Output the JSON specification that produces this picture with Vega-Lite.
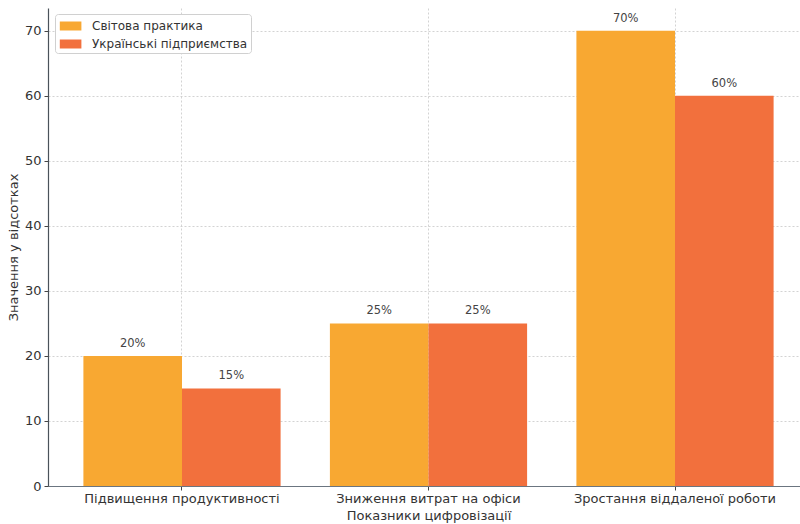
{
  "$schema": "https://vega.github.io/schema/vega-lite/v6.json",
  "width": 752,
  "height": 478,
  "autosize": {"type": "none"},
  "padding": {"left": 48, "top": 8, "right": 0, "bottom": 38},
  "background": "white",
  "data": {
    "values": [
      {"category": "Підвищення продуктивності", "series": "Світова практика", "value": 20},
      {"category": "Підвищення продуктивності", "series": "Українські підприємства", "value": 15},
      {"category": "Зниження витрат на офіси", "series": "Світова практика", "value": 25},
      {"category": "Зниження витрат на офіси", "series": "Українські підприємства", "value": 25},
      {"category": "Зростання віддаленої роботи", "series": "Світова практика", "value": 70},
      {"category": "Зростання віддаленої роботи", "series": "Українські підприємства", "value": 60}
    ]
  },
  "transform": [{"calculate": "datum.value + '%'", "as": "label"}],
  "encoding": {
    "x": {
      "field": "category",
      "type": "nominal",
      "sort": ["Підвищення продуктивності", "Зниження витрат на офіси", "Зростання віддаленої роботи"],
      "scale": {"range": [0, 761], "paddingInner": 0.2, "paddingOuter": 0.1436},
      "title": "Показники цифровізації",
      "axis": {
        "labelAngle": 0,
        "labelLimit": 0,
        "bandPosition": 0.5,
        "grid": true,
        "gridDash": [2, 2],
        "gridColor": "#c8c8c8",
        "gridWidth": 0.8,
        "tickSize": 4,
        "tickColor": "#444",
        "labelPadding": 2,
        "titlePadding": 4,
        "domainColor": "#6b7580",
        "domainWidth": 1.2
      }
    },
    "xOffset": {"field": "series", "type": "nominal", "sort": ["Світова практика", "Українські підприємства"], "scale": {"paddingInner": 0, "paddingOuter": 0}},
    "y": {
      "field": "value",
      "type": "quantitative",
      "scale": {"domain": [0, 73.5], "nice": false, "zero": true},
      "title": "Значення у відсотках",
      "axis": {
        "values": [0, 10, 20, 30, 40, 50, 60, 70],
        "grid": true,
        "gridDash": [2, 2],
        "gridColor": "#c8c8c8",
        "gridWidth": 0.8,
        "tickSize": 4,
        "tickColor": "#444",
        "labelPadding": 3,
        "titlePadding": 4,
        "domainColor": "#4a525a",
        "domainWidth": 1.2
      }
    }
  },
  "layer": [
    {
      "mark": {"type": "bar"},
      "encoding": {
        "color": {
          "field": "series",
          "type": "nominal",
          "scale": {"domain": ["Світова практика", "Українські підприємства"], "range": ["#F8A832", "#F2703D"]},
          "legend": {
            "title": null,
            "orient": "none",
            "legendX": 7,
            "legendY": 6,
            "padding": 3,
            "cornerRadius": 3,
            "strokeColor": "#d0d0d0",
            "fillColor": "#ffffff",
            "symbolType": "M-0.8,-0.5H1.6V0.5H-0.8Z",
            "symbolSize": 324,
            "symbolStrokeWidth": 0,
            "symbolOpacity": 1,
            "labelFontSize": 12,
            "labelColor": "#333",
            "labelOffset": 16,
            "rowPadding": 3
          }
        }
      }
    },
    {
      "mark": {"type": "text", "dy": -12, "fontSize": 11.5, "color": "#444", "font": "DejaVu Sans"},
      "encoding": {"text": {"field": "label"}}
    }
  ],
  "config": {
    "font": "DejaVu Sans",
    "view": {"stroke": null},
    "axis": {
      "labelFont": "DejaVu Sans",
      "titleFont": "DejaVu Sans",
      "labelFontSize": 13,
      "titleFontSize": 13,
      "titleFontWeight": "normal",
      "labelColor": "#333",
      "titleColor": "#333"
    },
    "legend": {"labelFont": "DejaVu Sans"}
  }
}
